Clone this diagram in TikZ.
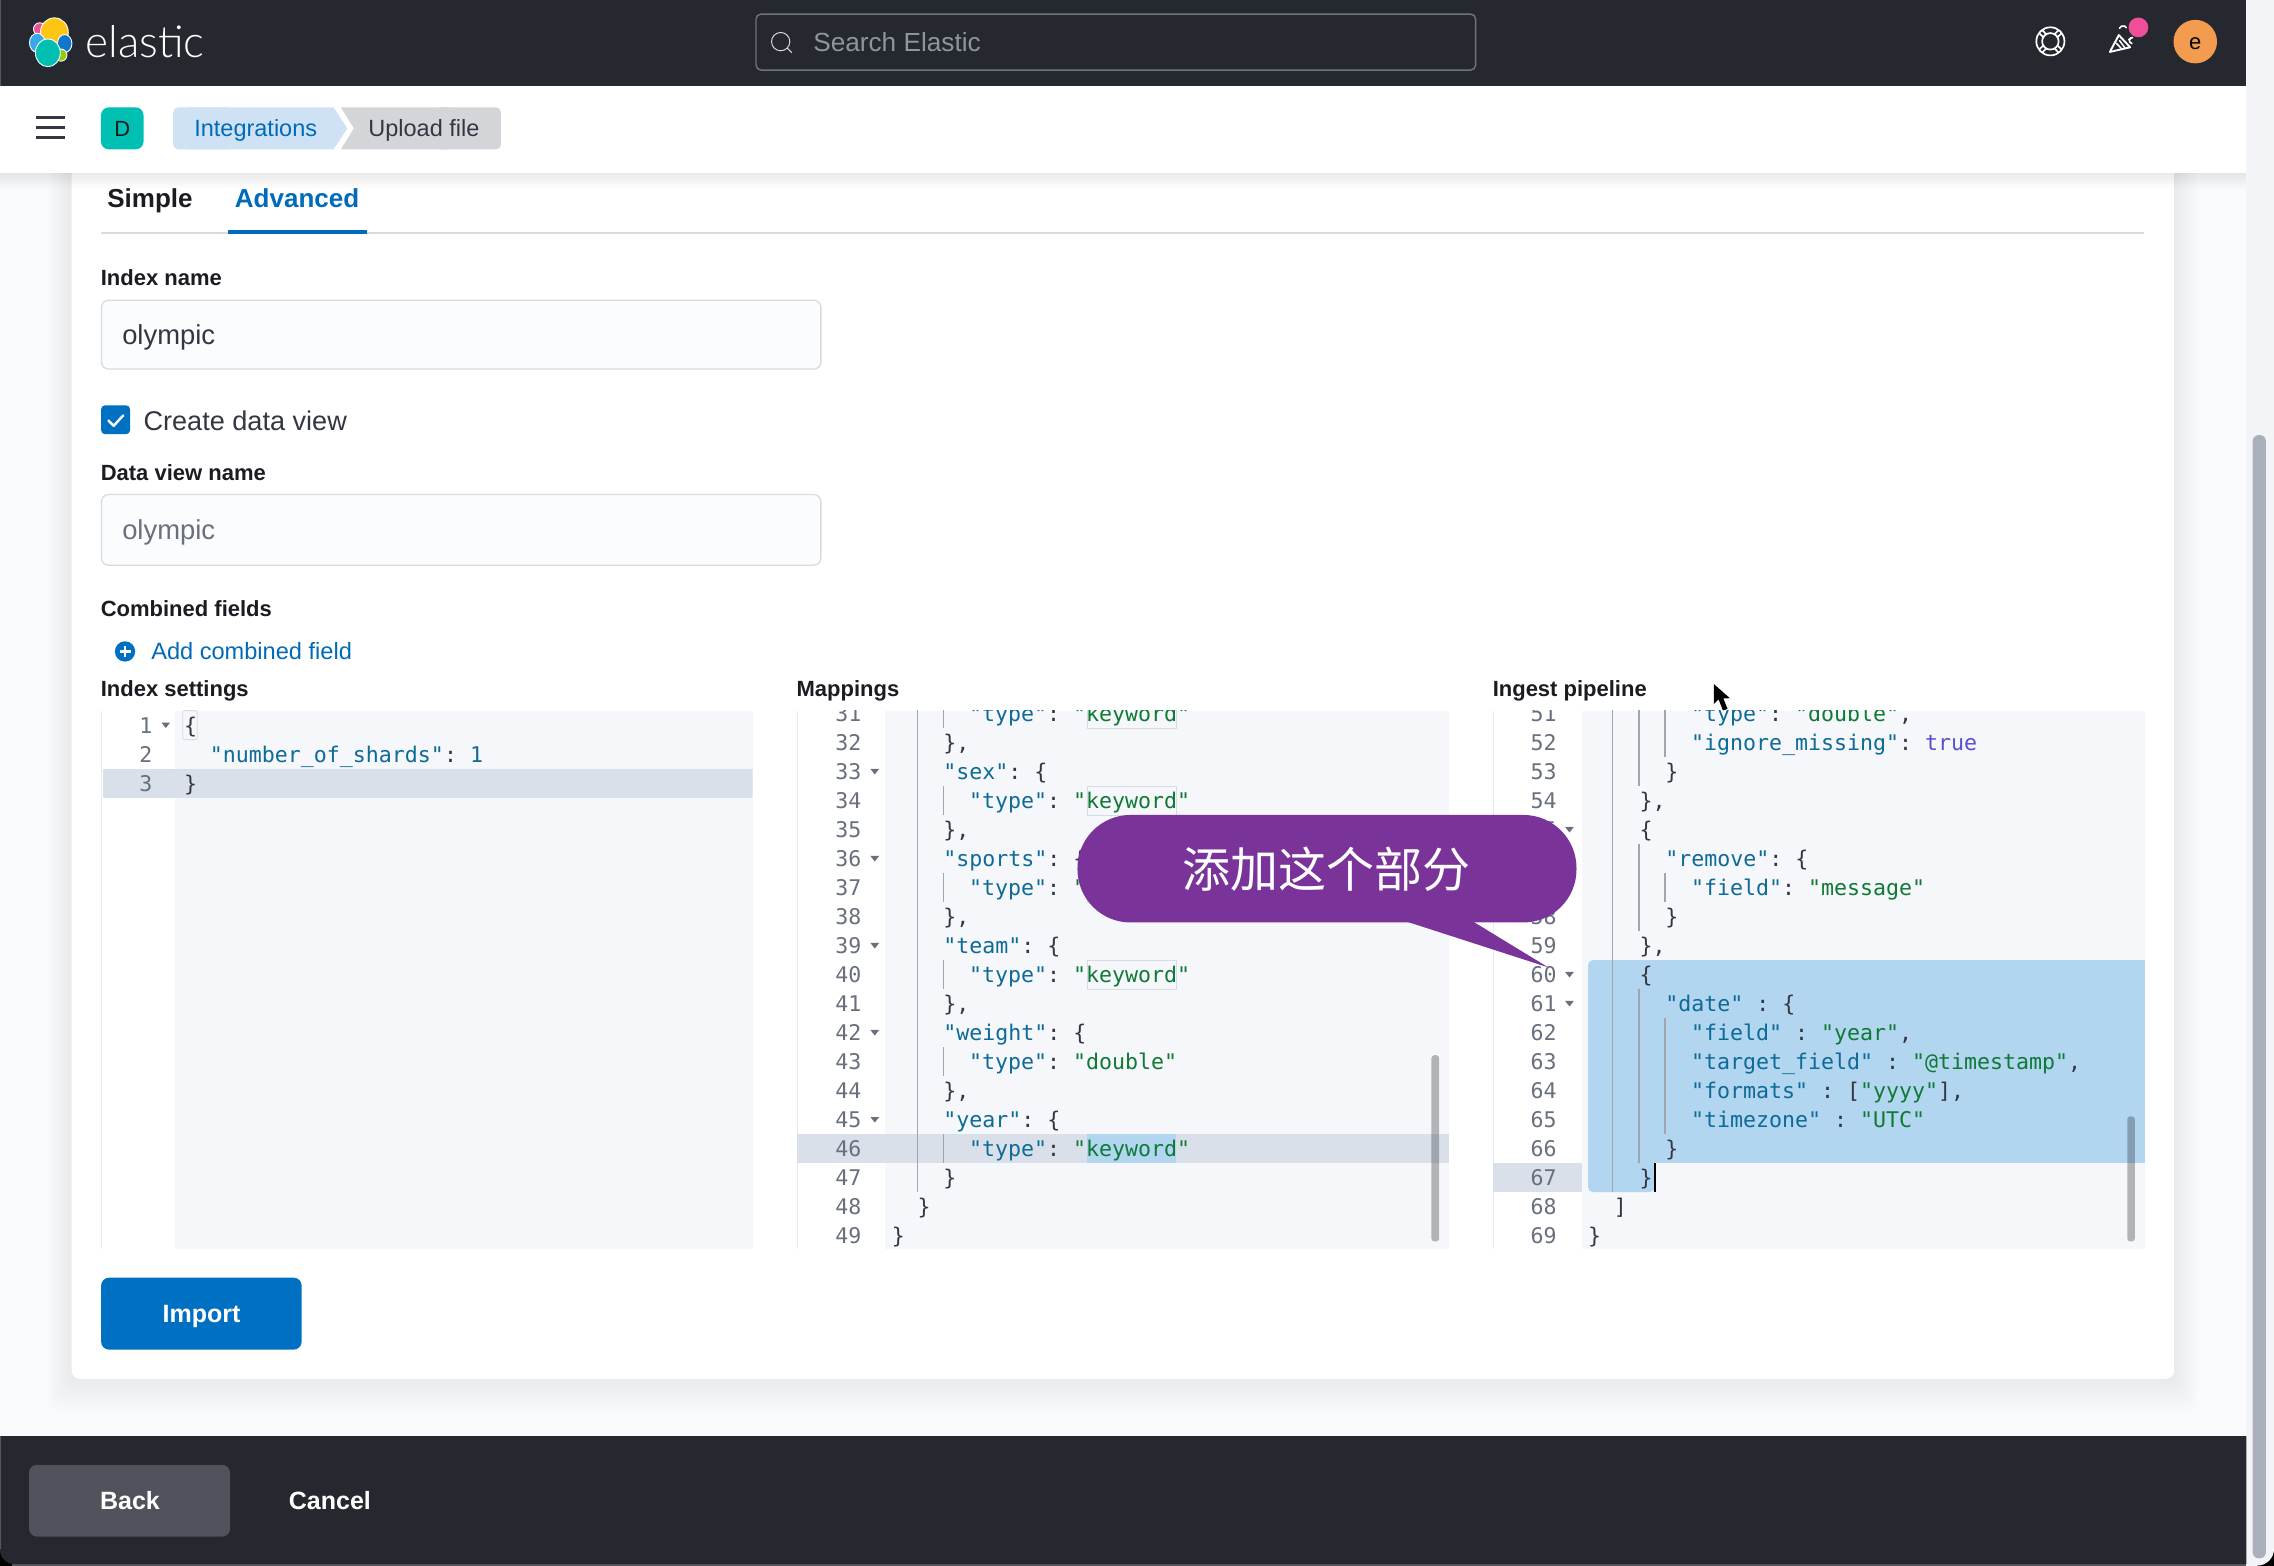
\documentclass[tikz,border=0pt]{standalone}
\usepackage{fontspec}
\setmainfont{Liberation Sans}
\newfontfamily\monof{DejaVu Sans Mono}
\newfontfamily\cjkf{Noto Sans CJK SC}
\newfontfamily\logof{Lato Light}
\definecolor{topbar}{HTML}{25282F}
\definecolor{pagebg}{HTML}{F9FAFC}
\definecolor{strip}{HTML}{F3F4F7}
\definecolor{pagebar}{HTML}{AAB0BB}
\definecolor{eui}{HTML}{0071C2}
\definecolor{linktxt}{HTML}{006BB8}
\definecolor{ink}{HTML}{1A1C21}
\definecolor{body}{HTML}{343741}
\definecolor{subdued}{HTML}{69707D}
\definecolor{rule}{HTML}{D9DBE2}
\definecolor{fieldbg}{HTML}{FBFCFD}
\definecolor{codebg}{HTML}{F5F7FA}
\definecolor{active}{HTML}{DAE0EA}
\definecolor{selblue}{HTML}{B2D5F0}
\definecolor{ckey}{HTML}{0E6A96}
\definecolor{cstr}{HTML}{0E7A36}
\definecolor{ctrue}{HTML}{5A4FD0}
\definecolor{guidec}{HTML}{A0A6B0}
\definecolor{calloutc}{HTML}{7A3399}
\definecolor{crumba}{HTML}{CFE2F5}
\definecolor{crumbb}{HTML}{D3D5D9}
\definecolor{tealbadge}{HTML}{00BFB3}
\definecolor{searchedge}{HTML}{6F737B}
\definecolor{backbtn}{HTML}{50535B}
\definecolor{avatar}{HTML}{F39C4F}
\definecolor{pinkdot}{HTML}{F04E98}
\definecolor{edgegray}{HTML}{55585F}
\definecolor{logoyellow}{HTML}{FEC514}
\definecolor{logopink}{HTML}{EE4F9B}
\definecolor{logolblue}{HTML}{36A9E8}
\definecolor{logoteal}{HTML}{00BFB3}
\definecolor{logodblue}{HTML}{0E77CC}
\definecolor{logogreen}{HTML}{93C90E}
\newcommand\cK[1]{{\color{ckey}#1}}
\newcommand\cS[1]{{\color{cstr}#1}}
\newcommand\cT[1]{{\color{ctrue}#1}}
\newcounter{codec}
\newcommand\cl[3]{\stepcounter{codec}\node[codetxt] (code\thecodec) at ({\basex+8.88*#2},{\basey+20*#1+5.5}) {\frenchspacing #3};}
\newcommand\guide[3]{\draw[guideline] (#1,{\basey+20*#2-10}) -- (#1,{\basey+20*#3+10});}
\newcommand\foldm[1]{\fill[subdued] ({\foldx-3},{\basey+20*#1-1.8}) -- ({\foldx+3},{\basey+20*#1-1.8}) -- (\foldx,{\basey+20*#1+2}) -- cycle;}
\newcommand\kwbox[1]{\draw[rule,line width=0.9pt] (749.5,{\basey+20*#1-10}) rectangle (811,{\basey+20*#1+10});}
\tikzset{
  ui/.style={inner sep=0pt,outer sep=0pt,anchor=base west,text=ink},
  fieldlabel/.style={ui,font=\fontsize{22}{26}\selectfont\bfseries},
  codetxt/.style={inner sep=0pt,outer sep=0pt,anchor=base west,text=body,font=\fontsize{21.6}{24}\monof\selectfont},
  lnum/.style={inner sep=0pt,outer sep=0pt,anchor=base east,text=subdued,font=\fontsize{21.6}{24}\monof\selectfont},
  guideline/.style={draw=guidec,line width=1.4pt},
  field/.style={fill=fieldbg,draw=rule,line width=1.3pt,rounded corners=7pt},
  btntxt/.style={inner sep=0pt,outer sep=0pt,anchor=base,text=white,font=\fontsize{25}{28}\selectfont\bfseries},
  blob/.style={draw=white,line width=0.9pt},
  iconline/.style={draw=white,line width=1.7pt,line cap=round,line join=round},
}
\begin{document}
\begin{tikzpicture}[x=1.45026pt,y=-1.45026pt]
\useasboundingbox (0,0) rectangle (1568,1079.8);
% page
\fill[pagebg] (0,0) rectangle (1568,1079.8);
\fill[black] (1556,1079.8) rectangle (1568,1066);
\fill[strip] (1549,0) -- (1568,0) -- (1568,1068) arc[start angle=0,end angle=90,radius=11.5] -- (1549,1079.8) -- cycle;
\fill[pagebar,rounded corners=6pt] (1553.3,300) rectangle (1562.4,1074.5);
% panel with soft shadow
\foreach \s in {1,2,...,16}{
  \fill[black,opacity=0.005,rounded corners=8pt] ({49.4-\s},110) rectangle ({1499+\s},{950.7+1.4*\s});
}
\fill[white,rounded corners=8pt] (49.4,100) rectangle (1499,950.7);
% top bars
\foreach \s in {1,2,...,12}{
  \fill[black,opacity=0.008] (0,118) rectangle (1549,{118+\s});
}
\fill[white] (0,59) rectangle (1549,119);
\fill[topbar] (0,0) rectangle (1549,59.3);
\fill[edgegray] (0,0) rectangle (1,59.3);
% elastic logo
\fill[blob,fill=logopink] (27.4,20) circle (4.3);
\fill[blob,fill=logoyellow] (37.5,22.3) ellipse (9.6 and 10);
\fill[blob,fill=logolblue] (25.7,29.5) ellipse (5.4 and 6.6);
\fill[blob,fill=logodblue] (44.6,30) ellipse (5 and 6.2);
\fill[blob,fill=logogreen] (42,38) circle (4.2);
\fill[blob,fill=logoteal] (33,36.4) ellipse (8.6 and 9.6);
\node[ui,text=white,font=\fontsize{44}{48}\logof\selectfont] (logotext) at (59,39.8) {elastic};
% search
\draw[draw=searchedge,line width=1.4pt,rounded corners=5pt] (521.3,9.7) rectangle (1017.5,48.3);
\draw[draw=white!85!black,line width=1pt] (538.3,28.7) circle (6.3);
\draw[draw=white!85!black,line width=1pt] (542.8,33.2) -- (546,36.3);
\node[ui,text=subdued!75!white,font=\fontsize{26.2}{30}\selectfont] (searchtext) at (560.8,35.6) {Search Elastic};
% header icons
\draw[iconline] (1413.8,28.5) circle (9.7);
\draw[iconline] (1413.8,28.5) circle (5.7);
\foreach \a in {45,135,225,315}{
  \draw[iconline] ([shift={(\a-14:5.9)}]1413.8,28.5) -- ([shift={(\a-9:9.6)}]1413.8,28.5);
  \draw[iconline] ([shift={(\a+14:5.9)}]1413.8,28.5) -- ([shift={(\a+9:9.6)}]1413.8,28.5);
}
\draw[iconline,line width=1.9pt] (1454.8,35.8) -- (1461,24.2) -- (1468.8,32.6) -- cycle;
\draw[iconline,line width=1.5pt] (1459.2,29.8) -- (1463.3,34);
\draw[iconline,line width=1.5pt] (1461.5,28) -- (1465.2,33);
\draw[iconline,line width=1.6pt] (1461.5,19.5) arc[start angle=200,end angle=330,radius=2.6];
\draw[iconline,line width=1.6pt] (1467.8,27.3) -- (1470.5,25.8);
\draw[iconline,line width=1.6pt] (1470,30) arc[start angle=-80,end angle=60,radius=-2.2];
\fill[pinkdot] (1474.5,18.9) circle (6.8);
\fill[avatar] (1513.7,28.7) circle (15);
\node[inner sep=0pt,outer sep=0pt,anchor=base,text=black,font=\fontsize{22}{26}\selectfont] (avatartext) at (1513.7,34.2) {e};
% nav bar
\foreach \yy in {81,88,95}{\fill[body] (25,\yy-1.1) rectangle (45,\yy+1.1);}
\fill[tealbadge,rounded corners=8pt] (69.6,74) rectangle (99,103);
\node[inner sep=0pt,outer sep=0pt,anchor=base,text=ink,font=\fontsize{22}{26}\selectfont] (badgetext) at (84.3,94) {D};
\fill[crumbb,rounded corners=5pt] (300,74) rectangle (345.4,103);
\fill[crumbb] (235,74) -- (310,74) -- (310,103) -- (235,103) -- (244,88.5) -- cycle;
\fill[crumba,rounded corners=5pt] (119.4,74) rectangle (160,103);
\fill[crumba] (130,74) -- (230,74) -- (239.5,88.5) -- (230,103) -- (130,103) -- cycle;
\node[ui,text=linktxt,font=\fontsize{23.5}{27}\selectfont] (crumb1) at (134,93.8) {Integrations};
\node[ui,text=body,font=\fontsize{23.5}{27}\selectfont] (crumb2) at (254,93.8) {Upload file};
% tabs
\node[ui,font=\fontsize{26}{30}\selectfont\bfseries] (tab1) at (74,143.3) {Simple};
\node[ui,text=linktxt,font=\fontsize{26}{30}\selectfont\bfseries] (tab2) at (162,143.3) {Advanced};
\fill[rule] (69.4,159.8) rectangle (1478,161.2);
\fill[linktxt] (157.3,158.6) rectangle (253,161.4);
% form
\node[fieldlabel] (lblindex) at (69.5,197) {Index name};
\draw[field] (70,207) rectangle (566,254.5);
\node[ui,text=body,font=\fontsize{27.4}{31}\selectfont] (valindex) at (84.3,237.8) {olympic};
\fill[eui,rounded corners=4pt] (69.7,279.5) rectangle (89.7,299.4);
\draw[draw=white,line width=2.4pt,line cap=round,line join=round] (74.8,290) -- (78.4,293.6) -- (85,286.4);
\node[ui,text=body,font=\fontsize{27.1}{31}\selectfont] (lblcreate) at (99,296.5) {Create data view};
\node[fieldlabel] (lbldv) at (69.5,331) {Data view name};
\draw[field] (70,341) rectangle (566,389.7);
\node[ui,text=subdued,font=\fontsize{27.4}{31}\selectfont] (valdv) at (84.3,372) {olympic};
\node[fieldlabel] (lblcomb) at (69.5,425) {Combined fields};
\fill[eui] (86.2,449.2) circle (7);
\fill[white] (82.4,448.4) rectangle (90,450);
\fill[white] (85.4,445.4) rectangle (87,453);
\node[ui,text=linktxt,font=\fontsize{23.6}{28}\selectfont] (addcomb) at (104.3,454.7) {Add combined field};
\node[fieldlabel] (lblidx) at (69.5,480.3) {Index settings};
\node[fieldlabel] (lblmap) at (549.3,480.3) {Mappings};
\node[fieldlabel] (lblpipe) at (1029.3,480.3) {Ingest pipeline};
% ---------- Index settings editor
\fill[codebg] (121,490) rectangle (519,861.5);
\draw[draw=rule!60!white,line width=0.8pt] (69.6,490) -- (69.6,861.5);
\begin{scope}
\clip (69,490) rectangle (519,861.5);
\def\basex{127}\def\basey{480}\def\foldx{114.3}
\fill[active] (71,530) rectangle (519,550);
\draw[draw=rule,line width=0.8pt,rounded corners=2pt] (126,490) rectangle (136,510);
\foreach \n in {1,2,3}{\node[lnum] (idxn\n) at (105,{\basey+20*\n+5.5}) {\n};}
\foldm{1}
\cl{1}{0}{\{}
\cl{2}{2}{\cK{"number\_of\_shards"}: \cK{1}}
\cl{3}{0}{\}}
\end{scope}
% ---------- Mappings editor
\fill[codebg] (610.5,490) rectangle (999,861.5);
\draw[draw=rule!60!white,line width=0.8pt] (549.6,490) -- (549.6,861.5);
\begin{scope}
\clip (549,490) rectangle (999,861.5);
\def\basex{615}\def\basey{-128}\def\foldx{603.2}
\fill[active] (549.6,782) rectangle (999,802);
\fill[selblue] (749.5,782) rectangle (811,802);
\kwbox{31}\kwbox{34}\kwbox{37}\kwbox{40}
\foreach \n in {31,...,49}{\node[lnum] (mapn\n) at (594,{\basey+20*\n+5.5}) {\n};}
\foreach \n in {33,36,39,42,45}{\foldm{\n}}
\guide{632.5}{31}{47}
\foreach \n in {31,34,37,40,43,46}{\guide{650.5}{\n}{\n}}
\cl{31}{6}{\cK{"type"}: \cS{"keyword"}}
\cl{32}{4}{\},}
\cl{33}{4}{\cK{"sex"}: \{}
\cl{34}{6}{\cK{"type"}: \cS{"keyword"}}
\cl{35}{4}{\},}
\cl{36}{4}{\cK{"sports"}: \{}
\cl{37}{6}{\cK{"type"}: \cS{"keyword"}}
\cl{38}{4}{\},}
\cl{39}{4}{\cK{"team"}: \{}
\cl{40}{6}{\cK{"type"}: \cS{"keyword"}}
\cl{41}{4}{\},}
\cl{42}{4}{\cK{"weight"}: \{}
\cl{43}{6}{\cK{"type"}: \cS{"double"}}
\cl{44}{4}{\},}
\cl{45}{4}{\cK{"year"}: \{}
\cl{46}{6}{\cK{"type"}: \cS{"keyword"}}
\cl{47}{4}{\}}
\cl{48}{2}{\}}
\cl{49}{0}{\}}
\fill[black!55!subdued,opacity=0.34,rounded corners=3pt] (987,727.6) rectangle (992.4,856);
\end{scope}
% ---------- Ingest pipeline editor
\fill[codebg] (1090.5,490) rectangle (1479,861.5);
\draw[draw=rule!60!white,line width=0.8pt] (1029.6,490) -- (1029.6,861.5);
\begin{scope}
\clip (1029,490) rectangle (1479,861.5);
\def\basex{1095}\def\basey{-528}\def\foldx{1082.2}
\fill[active] (1029.6,802) rectangle (1090.5,822);
\fill[selblue,rounded corners=5pt] (1095,662) rectangle (1500,700);
\fill[selblue] (1095,680) rectangle (1480,802);
\fill[selblue,rounded corners=5pt] (1095,780) rectangle (1141,822);
\foreach \n in {51,...,69}{\node[lnum] (pipen\n) at (1073.4,{\basey+20*\n+5.5}) {\n};}
\foreach \n in {55,60,61}{\foldm{\n}}
\guide{1112}{51}{67}
\guide{1130}{51}{53}\guide{1130}{56}{58}\guide{1130}{61}{66}
\guide{1148}{51}{52}\guide{1148}{57}{57}\guide{1148}{62}{65}
\cl{51}{8}{\cK{"type"}: \cS{"double"},}
\cl{52}{8}{\cK{"ignore\_missing"}: \cT{true}}
\cl{53}{6}{\}}
\cl{54}{4}{\},}
\cl{55}{4}{\{}
\cl{56}{6}{\cK{"remove"}: \{}
\cl{57}{8}{\cK{"field"}: \cS{"message"}}
\cl{58}{6}{\}}
\cl{59}{4}{\},}
\cl{60}{4}{\{}
\cl{61}{6}{\cK{"date"} : \{}
\cl{62}{8}{\cK{"field"} : \cS{"year"},}
\cl{63}{8}{\cK{"target\_field"} : \cS{"@timestamp"},}
\cl{64}{8}{\cK{"formats"} : [\cS{"yyyy"}],}
\cl{65}{8}{\cK{"timezone"} : \cS{"UTC"}}
\cl{66}{6}{\}}
\cl{67}{4}{\}}
\cl{68}{2}{]}
\cl{69}{0}{\}}
\fill[black] (1140.2,802) rectangle (1141.8,822);
\fill[black!55!subdued,opacity=0.34,rounded corners=3pt] (1466.8,769.8) rectangle (1472,856);
\end{scope}
% mouse pointer
\fill[black] (1181.8,471.7) -- (1181.8,485.3) -- (1185,482.2) -- (1188,489.9) -- (1191.2,488.8) -- (1188.3,481.6) -- (1192.8,481.4) -- cycle;
% import button
\fill[eui,rounded corners=8pt] (69.7,881) rectangle (208,930.6);
\node[btntxt] (importtxt) at (139,912) {Import};
% bottom bar
\fill[black] (0,1066) rectangle (12,1079.8);
\fill[edgegray] (8,1078.4) rectangle (1549,1079.8);
\fill[topbar] (0,990.2) -- (1549,990.2) -- (1549,1078.5) -- (10,1078.5) arc[start angle=90,end angle=180,radius=10] -- cycle;
\fill[edgegray] (0,990.2) rectangle (1,1068);
\fill[backbtn,rounded corners=8pt] (20,1010) rectangle (158.6,1059.6);
\node[btntxt] (backtxt) at (89.6,1040.5) {Back};
\node[btntxt] (canceltxt) at (227.5,1040.5) {Cancel};
% callout
\node[fill=calloutc,rounded corners=53pt,minimum width=499pt,minimum height=107.5pt,inner sep=0pt,text=white,font=\fontsize{48}{52}\cjkf\selectfont] (callout) at (915,599) {添加这个部分};
\fill[calloutc] (968.5,635) -- (1067.5,667) -- (1015,635) -- cycle;
\end{tikzpicture}
\end{document}
